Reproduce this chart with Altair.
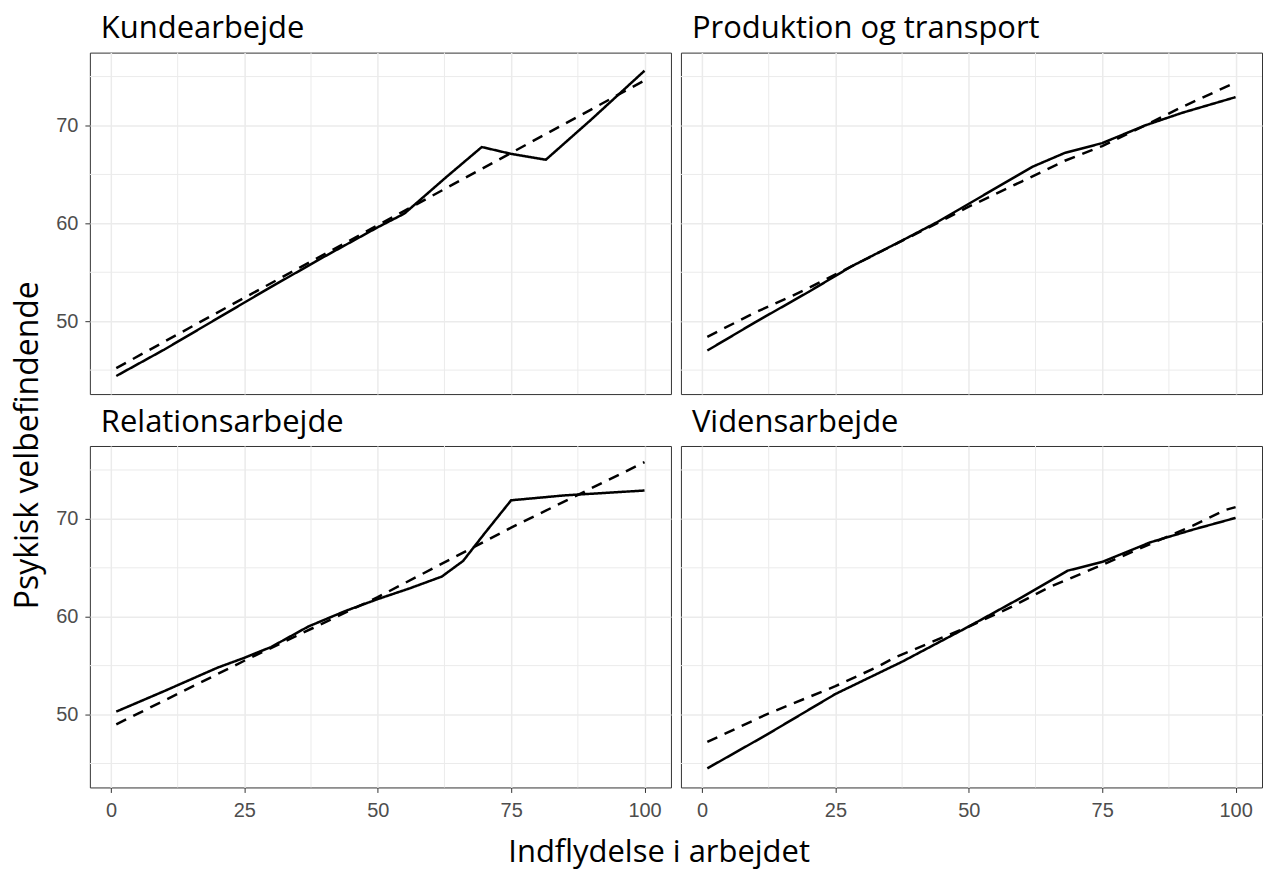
import altair as alt
import pandas as pd

# ---------------- data ----------------
panels = ["Kundearbejde", "Produktion og transport", "Relationsarbejde", "Vidensarbejde"]

kunde_obs_x = [1, 10, 20, 30, 40, 50, 55, 63, 69.5, 75, 81.5, 90, 100]
kunde_obs_y = [44.4, 47.1, 50.3, 53.5, 56.6, 59.6, 61.0, 64.8, 67.8, 67.1, 66.5, 70.6, 75.6]
kunde_fit_x = [1, 25, 50, 75, 100]
kunde_fit_y = [45.2, 52.4, 59.8, 67.2, 74.6]

prod_obs_x = [1, 10, 20, 28, 37, 44, 50, 56, 62, 68, 75, 83, 90, 100]
prod_obs_y = [47.0, 49.9, 53.0, 55.6, 58.1, 60.1, 62.0, 63.9, 65.8, 67.2, 68.2, 70.0, 71.3, 72.9]
prod_fit_x = [1, 10, 17, 20, 28, 44, 50, 60, 68, 75, 83, 90, 100]
prod_fit_y = [48.4, 50.9, 52.6, 53.4, 55.6, 60.0, 61.7, 64.3, 66.4, 67.9, 70.0, 71.9, 74.4]

rel_obs_x = [1, 10, 20, 25, 30, 37, 44, 50, 56, 62, 66, 70, 75, 85, 100]
rel_obs_y = [50.3, 52.4, 54.8, 55.8, 56.9, 59.0, 60.6, 61.8, 62.9, 64.1, 65.7, 68.5, 71.9, 72.4, 72.9]
rel_fit_x = [1, 25, 50, 75, 100]
rel_fit_y = [49.0, 55.5, 62.0, 69.1, 75.8]

viden_obs_x = [1, 12, 25, 37.5, 50, 60, 68.5, 75, 84, 92, 100]
viden_obs_y = [44.5, 47.9, 52.1, 55.4, 59.0, 62.0, 64.7, 65.6, 67.6, 68.9, 70.1]
viden_fit_x = [1, 12, 25, 33, 36, 50, 58, 65, 75, 86, 92, 98, 100]
viden_fit_y = [47.2, 50.0, 52.9, 54.9, 55.8, 59.0, 61.0, 63.0, 65.3, 67.9, 69.3, 70.9, 71.2]

x_major = [0, 25, 50, 75, 100]
x_minor = [12.5, 37.5, 62.5, 87.5]
y_major = [50, 60, 70]
y_minor = [45, 55, 65, 75]

x_title = "Indflydelse i arbejdet"
y_title = "Psykisk velbefindende"

# ---------------- chart ----------------
X_DOMAIN = [-3.95, 104.95]
Y_DOMAIN = [42.55, 77.45]
TITLE_FONT = "Open Sans"
GRID = "#ebebeb"
PANEL_W = 582
PANEL_H = 342


def frame(name, xs, ys, kind):
    return pd.DataFrame({"panel": name, "x": xs, "y": ys, "kind": kind})


def panel(name, obs_x, obs_y, fit_x, fit_y, show_x, show_y):
    df = pd.concat([frame(name, obs_x, obs_y, "obs"), frame(name, fit_x, fit_y, "fit")],
                   ignore_index=True)
    xs = alt.Scale(domain=X_DOMAIN, nice=False, zero=False)
    ys = alt.Scale(domain=Y_DOMAIN, nice=False, zero=False)
    if show_x:
        xaxis = alt.Axis(values=x_major, title=None, domain=False, grid=True,
                         labelPadding=8, tickSize=5, labelFlush=False)
    else:
        xaxis = alt.Axis(values=x_major, title=None, labels=False, ticks=False,
                         domain=False, grid=True)
    if show_y:
        yaxis = alt.Axis(values=y_major, title=None, domain=False, grid=True,
                         labelPadding=7, tickSize=5, labelFlush=False)
    else:
        yaxis = alt.Axis(values=y_major, title=None, labels=False, ticks=False,
                         domain=False, grid=True)

    gx = alt.Chart(pd.DataFrame({"gx": x_minor})).mark_rule(
        color=GRID, strokeWidth=1).encode(x=alt.X("gx:Q", scale=xs, axis=xaxis))
    gy = alt.Chart(pd.DataFrame({"gy": y_minor})).mark_rule(
        color=GRID, strokeWidth=1).encode(y=alt.Y("gy:Q", scale=ys, axis=yaxis))
    lines = alt.Chart(df).mark_line(color="black", strokeWidth=2.5).encode(
        x=alt.X("x:Q", scale=xs, axis=xaxis),
        y=alt.Y("y:Q", scale=ys, axis=yaxis),
        strokeDash=alt.StrokeDash("kind:N",
                                  scale=alt.Scale(domain=["obs", "fit"], range=[[1, 0], [11, 8]]),
                                  legend=None),
    )
    return alt.layer(gx, gy, lines).properties(
        width=PANEL_W, height=PANEL_H,
        title=alt.TitleParams(name, anchor="start", frame="group", dx=11,
                              font=TITLE_FONT, fontSize=31, fontWeight="normal",
                              color="black", baseline="bottom", offset=-24),
    )


p1 = panel(panels[0], kunde_obs_x, kunde_obs_y, kunde_fit_x, kunde_fit_y, False, True)
p2 = panel(panels[1], prod_obs_x, prod_obs_y, prod_fit_x, prod_fit_y, False, False)
p3 = panel(panels[2], rel_obs_x, rel_obs_y, rel_fit_x, rel_fit_y, True, True)
p4 = panel(panels[3], viden_obs_x, viden_obs_y, viden_fit_x, viden_fit_y, True, False)

row1 = alt.hconcat(p1, p2, spacing=8)
row2 = alt.hconcat(p3, p4, spacing=8).properties(
    title=alt.TitleParams(x_title, orient="bottom", anchor="middle", font=TITLE_FONT,
                          fontSize=31, fontWeight="normal", color="black",
                          baseline="top", offset=17)
)

chart = alt.vconcat(row1, row2, spacing=11).properties(
    title=alt.TitleParams(y_title, orient="left", anchor="middle", font=TITLE_FONT,
                          fontSize=32, fontWeight="normal", color="black", offset=10,
                          dx=-5),
    padding={"left": 4, "top": 4, "right": 0, "bottom": 0},
).configure_view(
    stroke="#333333", strokeWidth=1
).configure_axis(
    labelFont="Liberation Sans", labelFontSize=20, labelColor="#4d4d4d",
    tickColor="#333333", gridColor=GRID, gridWidth=1.5,
).configure_concat(spacing=8)

chart.save("out.html", embed_options={"renderer": "svg", "actions": False})
